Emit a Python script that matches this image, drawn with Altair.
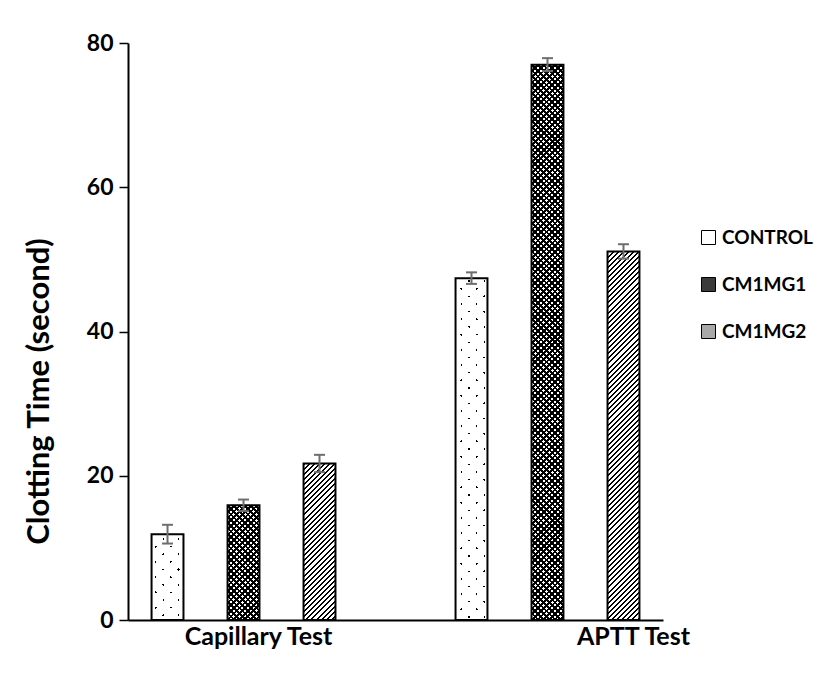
import math
import altair as alt
import pandas as pd

# ---------------- data ----------------
categories = ["Capillary Test", "APTT Test"]
series = ["CONTROL", "CM1MG1", "CM1MG2"]
capillary_mean = [11.9, 15.9, 21.7]
capillary_err = [1.3, 0.8, 1.2]
aptt_mean = [47.4, 77.0, 51.1]
aptt_err = [0.8, 0.9, 1.0]
y_ticks = [0, 20, 40, 60, 80]

rows = []
for cat, means, errs in [("Capillary Test", capillary_mean, capillary_err),
                         ("APTT Test", aptt_mean, aptt_err)]:
    for s, m, e in zip(series, means, errs):
        rows.append({"category": cat, "series": s, "value": m,
                     "lo": m - e, "hi": m + e})
df = pd.DataFrame(rows)

# ---------------- layout ----------------
W, H = 535, 577
YMAX = 80
X_PAD_IN, X_PAD_OUT = 0.25, 0.005
XO_PAD_IN, XO_PAD_OUT = 0.58, 0.29
step = W / (len(categories) - X_PAD_IN + 2 * X_PAD_OUT)
band = step * (1 - X_PAD_IN)
sub_step = band / (len(series) - XO_PAD_IN + 2 * XO_PAD_OUT)
BAR_W = sub_step * (1 - XO_PAD_IN)

FONT = "Lato"
WHITE = "#ffffff"
BLACK = "#000000"
CLEAR = "rgba(255,255,255,0)"


def stripes(w, h, direction, period, line, fg, bg):
    """Linear gradient that draws hard-edged 45 degree stripes inside a w x h bar."""
    c = (w + h) / (w * w + h * h)
    if direction == "/":
        x1, y1, x2, y2 = 0, 0, c * w, c * h
    else:
        x1, y1, x2, y2 = 0, 1, c * w, 1 - c * h
    P = period * math.sqrt(2) / (w + h)
    a = line * math.sqrt(2) / (w + h)
    stops = []
    k = 0
    while k * P < 1:
        s = k * P
        e1 = min(s + a, 1.0)
        e2 = min(s + P, 1.0)
        stops += [{"offset": round(s, 6), "color": fg},
                  {"offset": round(e1, 6), "color": fg},
                  {"offset": round(e1, 6), "color": bg},
                  {"offset": round(e2, 6), "color": bg}]
        k += 1
    return {"gradient": "linear", "x1": x1, "y1": y1, "x2": x2, "y2": y2,
            "stops": stops}


def pattern_fills(s, w, h):
    if s == "CONTROL":      # sparse staggered dots
        return [stripes(w, h, "/", 10.8, 1.6, BLACK, WHITE),
                stripes(w, h, "\\", 10.8, 1.6, CLEAR, WHITE)]
    if s == "CM1MG1":       # dense dark cross-hatch
        return [stripes(w, h, "/", 4.0, 1.9, BLACK, WHITE),
                stripes(w, h, "\\", 4.0, 1.9, BLACK, CLEAR)]
    return [stripes(w, h, "/", 3.6, 1.4, BLACK, WHITE)]   # diagonal hatch


x_scale = alt.Scale(domain=categories, paddingInner=X_PAD_IN, paddingOuter=X_PAD_OUT)
xo_scale = alt.Scale(domain=series, paddingInner=XO_PAD_IN, paddingOuter=XO_PAD_OUT)
y_scale = alt.Scale(domain=[0, YMAX], nice=False)

x_axis = alt.Axis(
    title=None, ticks=False, labelAngle=0,
    labelFont=FONT, labelFontSize=25, labelFontWeight="bold", labelColor=BLACK,
    labelPadding=4, domainColor=BLACK, domainWidth=2,
    labelOffset={"condition": {"test": "datum.value === 'APTT Test'", "value": 86},
                 "value": 15},
)
y_axis = alt.Axis(
    title="Clotting Time (second)", values=y_ticks, grid=False,
    titleFont=FONT, titleFontSize=31, titleFontWeight="bold", titleColor=BLACK,
    titlePadding=31, titleY=348,
    labelFont=FONT, labelFontSize=23, labelFontWeight="bold", labelColor=BLACK,
    labelPadding=6, tickSize=9, tickColor=BLACK, tickWidth=1.5,
    domainColor=BLACK, domainWidth=2,
)

X = alt.X("category:N", scale=x_scale, axis=x_axis, sort=categories)
XO = alt.XOffset("series:N", scale=xo_scale, sort=series)
Y = alt.Y("value:Q", scale=y_scale, axis=y_axis)

base = alt.Chart(df)

legend = alt.Legend(
    title=None, orient="none", legendX=571, legendY=185, padding=0,
    symbolType="square", symbolSize=196, symbolStrokeColor=BLACK,
    symbolStrokeWidth=1, labelFont=FONT, labelFontSize=19,
    labelFontWeight="bold", labelColor=BLACK, labelOffset=4, rowPadding=27,
    labelLimit=300,
)

bars = base.mark_bar().encode(
    x=X, xOffset=XO, y=Y,
    fill=alt.Fill("series:N", sort=series,
                  scale=alt.Scale(domain=series, range=["#ffffff", "#3a3a3a", "#a8a8a8"]),
                  legend=legend),
)

layers = [bars]
for cat in categories:
    for s in series:
        v = float(df[(df.category == cat) & (df.series == s)]["value"].iloc[0])
        h = v / YMAX * H
        for g in pattern_fills(s, BAR_W, h):
            layers.append(
                base.transform_filter(
                    (alt.datum.category == cat) & (alt.datum.series == s)
                ).mark_bar(fill=g).encode(x=X, xOffset=XO, y=Y)
            )

outline = base.mark_bar(fillOpacity=0, stroke=BLACK, strokeWidth=2).encode(
    x=X, xOffset=XO, y=Y)
layers.append(outline)

ERR = "#6e6e6e"
err_rule = base.mark_rule(color=ERR, strokeWidth=2).encode(
    x=X, xOffset=XO,
    y=alt.Y("lo:Q", scale=y_scale, axis=y_axis), y2="hi:Q")
cap_hi = base.mark_tick(color=ERR, thickness=2, size=11, opacity=1).encode(
    x=X, xOffset=XO, y=alt.Y("hi:Q", scale=y_scale, axis=y_axis))
cap_lo = base.mark_tick(color=ERR, thickness=2, size=11, opacity=1).encode(
    x=X, xOffset=XO, y=alt.Y("lo:Q", scale=y_scale, axis=y_axis))
layers += [err_rule, cap_hi, cap_lo]

chart = alt.layer(*layers).properties(
    width=W, height=H,
    autosize=alt.AutoSizeParams(type="none"),
    padding={"left": 120, "top": 35, "right": 150, "bottom": 44},
).configure(background="white").configure_view(strokeWidth=0)

chart.save("out.html", embed_options={"renderer": "svg", "actions": False})
